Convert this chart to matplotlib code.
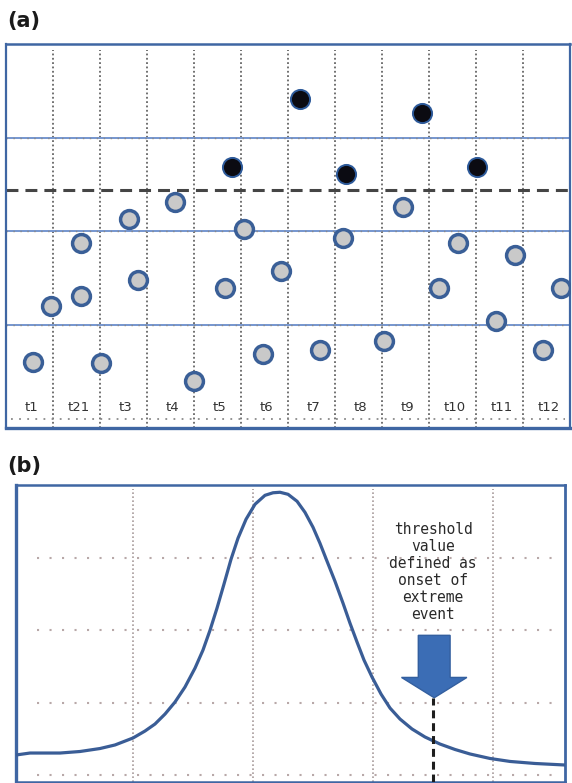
import matplotlib
matplotlib.use("Agg")
import matplotlib.pyplot as plt
from matplotlib.patches import FancyArrow

# ---------------- data: panel (a) ----------------
time_labels = ["t1", "t21", "t3", "t4", "t5", "t6", "t7", "t8", "t9", "t10", "t11", "t12"]
normal_x = [0.57, 0.96, 1.60, 1.60, 2.02, 2.62, 2.81, 3.60, 4.00, 4.66, 5.06, 5.85,
            5.47, 6.68, 7.17, 8.04, 8.45, 9.21, 9.62, 10.43, 10.83, 11.43, 11.81]
normal_y = [0.61, 1.20, 1.87, 1.31, 0.59, 2.13, 1.48, 2.31, 0.40, 1.40, 2.03, 1.58,
            0.69, 0.73, 1.93, 0.83, 2.26, 1.39, 1.88, 1.04, 1.75, 0.73, 1.40]
extreme_x = [4.81, 6.26, 7.23, 8.85, 10.02]
extreme_y = [2.69, 3.41, 2.61, 3.26, 2.69]
threshold_a = 2.44
level_lines = [1, 2, 3]

# ---------------- data: panel (b) ----------------
curve_x = [0.025, 0.142, 0.392, 0.558, 0.725, 0.85, 1.0, 1.1, 1.183, 1.267, 1.35, 1.433,
           1.517, 1.583, 1.642, 1.7, 1.758, 1.817, 1.875, 1.942, 2.017, 2.1, 2.167,
           2.225, 2.292, 2.367, 2.433, 2.5, 2.558, 2.617, 2.683, 2.75, 2.808, 2.867,
           2.925, 2.992, 3.067, 3.142, 3.225, 3.325, 3.433, 3.558, 3.683, 3.808,
           3.975, 4.142, 4.35, 4.6]
curve_y = [0.282, 0.309, 0.309, 0.330, 0.371, 0.420, 0.516, 0.612, 0.708, 0.846, 1.011,
           1.217, 1.479, 1.726, 2.001, 2.304, 2.634, 2.978, 3.267, 3.528, 3.735, 3.858,
           3.893, 3.900, 3.872, 3.776, 3.624, 3.418, 3.198, 2.950, 2.675, 2.373, 2.098,
           1.837, 1.589, 1.355, 1.121, 0.928, 0.777, 0.640, 0.530, 0.433, 0.358, 0.296,
           0.234, 0.193, 0.165, 0.144]
threshold_b = 3.51
annotation_lines = ["threshold", "value", "defined as", "onset of", "extreme", "event"]

BLUE = "#3f66a3"
CURVE = "#3a5d96"

fig = plt.figure(figsize=(5.72, 7.83), dpi=100)

# ======================= panel (a) =======================
ax1 = fig.add_axes([6 / 572, 1 - 428 / 783, 564 / 572, 384 / 783])
ax1.set_xlim(0, 12)
ax1.set_ylim(-0.1, 4.0)
ax1.set_xticks([])
ax1.set_yticks([])
for side, lw in (("top", 1.8), ("bottom", 2.4), ("left", 1.6), ("right", 1.6)):
    ax1.spines[side].set_color(BLUE)
    ax1.spines[side].set_linewidth(lw)

# vertical dotted column separators
for i in range(1, 12):
    ax1.plot([i, i], [-0.1, 3.94], color="#666666", lw=1.3,
             linestyle=(0, (1, 1.4)), zorder=1)
# horizontal blue level lines with gray dots
for lv in level_lines:
    ax1.plot([0, 12], [lv, lv], color="#7596cf", lw=1.4, zorder=1)
    ax1.plot([0, 12], [lv, lv], color="#888888", lw=1.0,
             linestyle=(0, (1, 4)), zorder=1.1)
# bottom dotted line
ax1.plot([0.1, 11.9], [0, 0], color="#8a8a8a", lw=1.3,
         linestyle=(0, (1, 3.5)), zorder=1)
# threshold dashed line
ax1.plot([0, 12], [threshold_a, threshold_a], color="#454545", lw=2.2,
         linestyle=(0, (3.9, 2.3)), zorder=2)

ax1.scatter(normal_x, normal_y, s=165, facecolor="#c9c9c9", edgecolor="#3a5f97",
            linewidth=2.5, zorder=3)
ax1.scatter(extreme_x, extreme_y, s=190, facecolor="#0b0b12", edgecolor="#2d5a9a",
            linewidth=1.4, zorder=3)

for i, lab in enumerate(time_labels):
    ax1.text(i + 0.55, 0.12, lab, ha="center", va="center", fontsize=9.5,
             color="#333333", zorder=4)

fig.text(7 / 572, 1 - 21 / 783, "(a)", fontsize=15, fontweight="bold",
         ha="left", va="center", color="#1a1a1a")

# ======================= panel (b) =======================
ax2 = fig.add_axes([16 / 572, 1 - 782 / 783, 549 / 572, 297 / 783])
ax2.set_xlim(0.025, 4.6)
ax2.set_ylim(-0.09, 4.0)
ax2.set_xticks([])
ax2.set_yticks([])
for side, lw in (("top", 1.8), ("bottom", 1.8), ("left", 2.4), ("right", 2.0)):
    ax2.spines[side].set_color(BLUE)
    ax2.spines[side].set_linewidth(lw)

for gx in [1, 2, 3, 4]:
    ax2.plot([gx, gx], [-0.09, 3.95], color="#a89c9c", lw=1.2,
             linestyle=(0, (1, 1.4)), zorder=1)
for gy in [0, 1, 2, 3]:
    ax2.plot([0.2, 4.55], [gy, gy], color="#b8a8a8", lw=1.5,
             linestyle=(0, (1, 5)), zorder=1)

ax2.plot(curve_x, curve_y, color=CURVE, lw=2.3, solid_capstyle="round",
         solid_joinstyle="round", zorder=3)

# threshold arrow and dashed line
tip_y = 1.07
ax2.add_patch(FancyArrow(threshold_b, 1.93, 0, tip_y - 1.93, width=0.265,
                         head_width=0.545, head_length=0.28,
                         length_includes_head=True, facecolor="#3b6db5",
                         edgecolor="#335f9f", lw=1.0, zorder=4))
ax2.plot([threshold_b - 0.01, threshold_b - 0.01], [-0.09, tip_y], color="#1e1e1e",
         lw=2.2, linestyle=(0, (2.6, 1.6)), zorder=4)

for i, line in enumerate(annotation_lines):
    ax2.text(3.5, 3.39 - i * 0.236, line, ha="center", va="center",
             fontsize=10.5, family="DejaVu Sans Mono", color="#2a2a2a", zorder=5)

fig.text(7 / 572, 1 - 466 / 783, "(b)", fontsize=15, fontweight="bold",
         ha="left", va="center", color="#1a1a1a")

fig.savefig("out.png", dpi=100)
